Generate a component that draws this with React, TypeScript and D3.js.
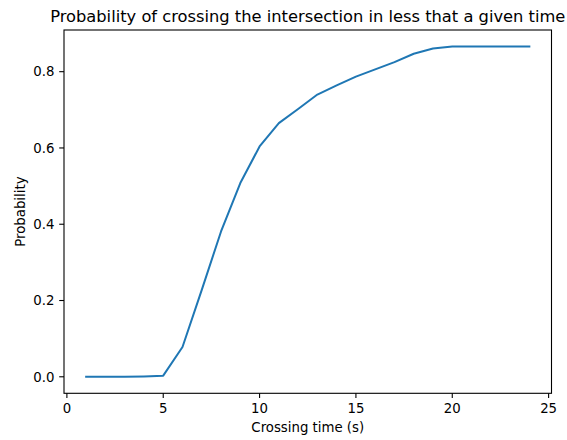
import React from "react";
import * as d3 from "d3";

const times = [1, 2, 3, 4, 5, 6, 7, 8, 9, 10, 11, 12, 13, 14, 15, 16, 17, 18, 19, 20, 21, 22, 23, 24];
const probabilities = [0, 0, 0, 0.001, 0.003, 0.078, 0.228, 0.381, 0.508, 0.604, 0.665, 0.702, 0.740, 0.764, 0.787, 0.806, 0.825, 0.847, 0.861, 0.866, 0.866, 0.866, 0.866, 0.866];
const xTicks = [0, 5, 10, 15, 20, 25];
const yTicks = [0, 0.2, 0.4, 0.6, 0.8];
const title = "Probability of crossing the intersection in less that a given time";
const xLabel = "Crossing time (s)";
const yLabel = "Probability";

const W = 567, H = 440;
const L = 64, R = 551.5, T = 30, B = 393.3;
const FONT = "DejaVu Sans, sans-serif";

export default function App() {
  const xMin = d3.min(times)!, xMax = d3.max(times)!;
  const xPad = (xMax - xMin) * 0.05;
  const yMin = 0, yMax = d3.max(probabilities)!;
  const yPad = (yMax - yMin) * 0.05;
  const x = d3.scaleLinear().domain([xMin - xPad, xMax + xPad]).range([L, R]);
  const y = d3.scaleLinear().domain([yMin - yPad, yMax + yPad]).range([B, T]);
  const line = d3.line<number>().x((_, i) => x(times[i])).y((d) => y(d));
  const tickLen = 4.8;
  return (
    <svg width={W} height={H} style={{ position: "absolute", left: 0, top: 0, background: "#fff" }} fontFamily={FONT}>
      <rect x={0} y={0} width={W} height={H} fill="#fff" />
      <path d={line(probabilities) || ""} fill="none" stroke="#1f77b4" strokeWidth={2} strokeLinejoin="round" strokeLinecap="square" />
      <rect x={L} y={T} width={R - L} height={B - T} fill="none" stroke="#000" strokeWidth={1.1} />
      {xTicks.map((t) => (
        <g key={"x" + t}>
          <line x1={x(t)} x2={x(t)} y1={B} y2={B + tickLen} stroke="#000" strokeWidth={1.1} />
          <text x={x(t)} y={B + tickLen + 4.8} dy="0.76em" textAnchor="middle" fontSize={13.3} fill="#000">{t}</text>
        </g>
      ))}
      {yTicks.map((t) => (
        <g key={"y" + t}>
          <line x1={L} x2={L - tickLen} y1={y(t)} y2={y(t)} stroke="#000" strokeWidth={1.1} />
          <text x={L - tickLen - 4.8} y={y(t)} dy="0.36em" textAnchor="end" fontSize={13.3} fill="#000">{t.toFixed(1)}</text>
        </g>
      ))}
      <text x={(L + R) / 2} y={22} textAnchor="middle" fontSize={16.3} fill="#000">{title}</text>
      <text x={(L + R) / 2} y={432} textAnchor="middle" fontSize={13.3} fill="#000">{xLabel}</text>
      <text transform={`translate(25,${(T + B) / 2}) rotate(-90)`} textAnchor="middle" fontSize={13.3} fill="#000">{yLabel}</text>
    </svg>
  );
}
